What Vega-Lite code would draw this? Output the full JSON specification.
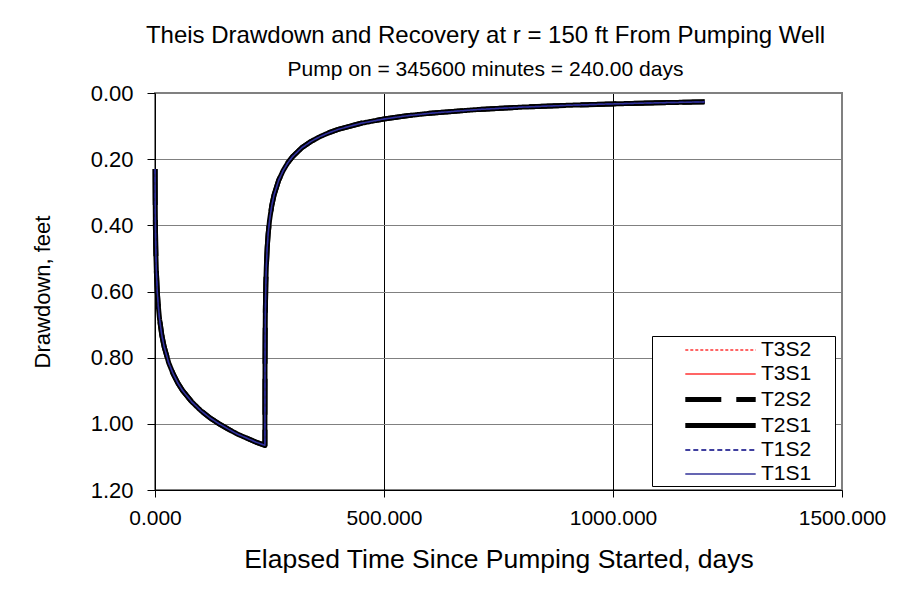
{
  "$schema": "https://vega.github.io/schema/vega-lite/v6.json",
  "autosize": "none",
  "width": 687,
  "height": 397,
  "padding": {"left": 155, "top": 93, "right": 56, "bottom": 106},
  "background": "white",
  "config": {
    "font": "Liberation Sans",
    "view": {"stroke": "#808080", "strokeWidth": 2},
    "axis": {"labelColor": "black", "titleColor": "black", "labelFont": "Liberation Sans", "titleFont": "Liberation Sans", "titleFontWeight": "normal", "domainColor": "black", "tickColor": "black"}
  },
  "title": {
    "text": "Theis Drawdown and Recovery at r = 150 ft From Pumping Well",
    "subtitle": "Pump on = 345600 minutes = 240.00 days",
    "fontSize": 24,
    "fontWeight": "normal",
    "color": "black",
    "subtitleFontSize": 21,
    "subtitleColor": "black",
    "subtitlePadding": 11,
    "offset": 2,
    "anchor": "middle",
    "dx": -13
  },
  "data": {
    "values": [
      {"t": 0.21, "T3S2": 0.230, "T3S1": 0.230, "T2S2": 0.230, "T2S1": 0.230, "T1S2": 0.230, "T1S1": 0.230},
      {"t": 0.3, "T3S2": 0.270, "T3S1": 0.270, "T2S2": 0.270, "T2S1": 0.270, "T1S2": 0.270, "T1S1": 0.270},
      {"t": 0.5, "T3S2": 0.329, "T3S1": 0.329, "T2S2": 0.329, "T2S1": 0.329, "T1S2": 0.329, "T1S1": 0.329},
      {"t": 0.7, "T3S2": 0.368, "T3S1": 0.368, "T2S2": 0.368, "T2S1": 0.368, "T1S2": 0.368, "T1S1": 0.368},
      {"t": 1, "T3S2": 0.410, "T3S1": 0.410, "T2S2": 0.410, "T2S1": 0.410, "T1S2": 0.410, "T1S1": 0.410},
      {"t": 1.5, "T3S2": 0.458, "T3S1": 0.458, "T2S2": 0.458, "T2S1": 0.458, "T1S2": 0.458, "T1S1": 0.458},
      {"t": 2, "T3S2": 0.492, "T3S1": 0.492, "T2S2": 0.492, "T2S1": 0.492, "T1S2": 0.492, "T1S1": 0.492},
      {"t": 3, "T3S2": 0.540, "T3S1": 0.540, "T2S2": 0.540, "T2S1": 0.540, "T1S2": 0.540, "T1S1": 0.540},
      {"t": 5, "T3S2": 0.601, "T3S1": 0.601, "T2S2": 0.601, "T2S1": 0.601, "T1S2": 0.601, "T1S1": 0.601},
      {"t": 7, "T3S2": 0.641, "T3S1": 0.641, "T2S2": 0.641, "T2S1": 0.641, "T1S2": 0.641, "T1S1": 0.641},
      {"t": 10, "T3S2": 0.684, "T3S1": 0.684, "T2S2": 0.684, "T2S1": 0.684, "T1S2": 0.684, "T1S1": 0.684},
      {"t": 15, "T3S2": 0.733, "T3S1": 0.733, "T2S2": 0.733, "T2S1": 0.733, "T1S2": 0.733, "T1S1": 0.733},
      {"t": 20, "T3S2": 0.767, "T3S1": 0.767, "T2S2": 0.767, "T2S1": 0.767, "T1S2": 0.767, "T1S1": 0.767},
      {"t": 30, "T3S2": 0.816, "T3S1": 0.816, "T2S2": 0.816, "T2S1": 0.816, "T1S2": 0.816, "T1S1": 0.816},
      {"t": 40, "T3S2": 0.850, "T3S1": 0.850, "T2S2": 0.850, "T2S1": 0.850, "T1S2": 0.850, "T1S1": 0.850},
      {"t": 50, "T3S2": 0.877, "T3S1": 0.877, "T2S2": 0.877, "T2S1": 0.877, "T1S2": 0.877, "T1S1": 0.877},
      {"t": 60, "T3S2": 0.899, "T3S1": 0.899, "T2S2": 0.899, "T2S1": 0.899, "T1S2": 0.899, "T1S1": 0.899},
      {"t": 80, "T3S2": 0.933, "T3S1": 0.933, "T2S2": 0.933, "T2S1": 0.933, "T1S2": 0.933, "T1S1": 0.933},
      {"t": 100, "T3S2": 0.960, "T3S1": 0.960, "T2S2": 0.960, "T2S1": 0.960, "T1S2": 0.960, "T1S1": 0.960},
      {"t": 120, "T3S2": 0.982, "T3S1": 0.982, "T2S2": 0.982, "T2S1": 0.982, "T1S2": 0.982, "T1S1": 0.982},
      {"t": 140, "T3S2": 1.000, "T3S1": 1.000, "T2S2": 1.000, "T2S1": 1.000, "T1S2": 1.000, "T1S1": 1.000},
      {"t": 160, "T3S2": 1.016, "T3S1": 1.016, "T2S2": 1.016, "T2S1": 1.016, "T1S2": 1.016, "T1S1": 1.016},
      {"t": 180, "T3S2": 1.031, "T3S1": 1.031, "T2S2": 1.031, "T2S1": 1.031, "T1S2": 1.031, "T1S1": 1.031},
      {"t": 200, "T3S2": 1.043, "T3S1": 1.043, "T2S2": 1.043, "T2S1": 1.043, "T1S2": 1.043, "T1S1": 1.043},
      {"t": 220, "T3S2": 1.055, "T3S1": 1.055, "T2S2": 1.055, "T2S1": 1.055, "T1S2": 1.055, "T1S1": 1.055},
      {"t": 240, "T3S2": 1.065, "T3S1": 1.065, "T2S2": 1.065, "T2S1": 1.065, "T1S2": 1.065, "T1S1": 1.065},
      {"t": 240.1, "T3S2": 0.914, "T3S1": 0.914, "T2S2": 0.914, "T2S1": 0.914, "T1S2": 0.914, "T1S1": 0.914},
      {"t": 240.21, "T3S2": 0.835, "T3S1": 0.835, "T2S2": 0.835, "T2S1": 0.835, "T1S2": 0.835, "T1S1": 0.835},
      {"t": 240.5, "T3S2": 0.737, "T3S1": 0.737, "T2S2": 0.737, "T2S1": 0.737, "T1S2": 0.737, "T1S1": 0.737},
      {"t": 241, "T3S2": 0.656, "T3S1": 0.656, "T2S2": 0.656, "T2S1": 0.656, "T1S2": 0.656, "T1S1": 0.656},
      {"t": 242, "T3S2": 0.574, "T3S1": 0.574, "T2S2": 0.574, "T2S1": 0.574, "T1S2": 0.574, "T1S1": 0.574},
      {"t": 243, "T3S2": 0.527, "T3S1": 0.527, "T2S2": 0.527, "T2S1": 0.527, "T1S2": 0.527, "T1S1": 0.527},
      {"t": 245, "T3S2": 0.467, "T3S1": 0.467, "T2S2": 0.467, "T2S1": 0.467, "T1S2": 0.467, "T1S1": 0.467},
      {"t": 247, "T3S2": 0.427, "T3S1": 0.427, "T2S2": 0.427, "T2S1": 0.427, "T1S2": 0.427, "T1S1": 0.427},
      {"t": 250, "T3S2": 0.386, "T3S1": 0.386, "T2S2": 0.386, "T2S1": 0.386, "T1S2": 0.386, "T1S1": 0.386},
      {"t": 255, "T3S2": 0.340, "T3S1": 0.340, "T2S2": 0.340, "T2S1": 0.340, "T1S2": 0.340, "T1S1": 0.340},
      {"t": 260, "T3S2": 0.308, "T3S1": 0.308, "T2S2": 0.308, "T2S1": 0.308, "T1S2": 0.308, "T1S1": 0.308},
      {"t": 270, "T3S2": 0.264, "T3S1": 0.264, "T2S2": 0.264, "T2S1": 0.264, "T1S2": 0.264, "T1S1": 0.264},
      {"t": 280, "T3S2": 0.234, "T3S1": 0.234, "T2S2": 0.234, "T2S1": 0.234, "T1S2": 0.234, "T1S1": 0.234},
      {"t": 290, "T3S2": 0.211, "T3S1": 0.211, "T2S2": 0.211, "T2S1": 0.211, "T1S2": 0.211, "T1S1": 0.211},
      {"t": 300, "T3S2": 0.193, "T3S1": 0.193, "T2S2": 0.193, "T2S1": 0.193, "T1S2": 0.193, "T1S1": 0.193},
      {"t": 320, "T3S2": 0.166, "T3S1": 0.166, "T2S2": 0.166, "T2S1": 0.166, "T1S2": 0.166, "T1S1": 0.166},
      {"t": 340, "T3S2": 0.147, "T3S1": 0.147, "T2S2": 0.147, "T2S1": 0.147, "T1S2": 0.147, "T1S1": 0.147},
      {"t": 360, "T3S2": 0.132, "T3S1": 0.132, "T2S2": 0.132, "T2S1": 0.132, "T1S2": 0.132, "T1S1": 0.132},
      {"t": 380, "T3S2": 0.120, "T3S1": 0.120, "T2S2": 0.120, "T2S1": 0.120, "T1S2": 0.120, "T1S1": 0.120},
      {"t": 400, "T3S2": 0.110, "T3S1": 0.110, "T2S2": 0.110, "T2S1": 0.110, "T1S2": 0.110, "T1S1": 0.110},
      {"t": 450, "T3S2": 0.0915, "T3S1": 0.0915, "T2S2": 0.0915, "T2S1": 0.0915, "T1S2": 0.0915, "T1S1": 0.0915},
      {"t": 500, "T3S2": 0.0785, "T3S1": 0.0785, "T2S2": 0.0785, "T2S1": 0.0785, "T1S2": 0.0785, "T1S1": 0.0785},
      {"t": 550, "T3S2": 0.0688, "T3S1": 0.0688, "T2S2": 0.0688, "T2S1": 0.0688, "T1S2": 0.0688, "T1S1": 0.0688},
      {"t": 600, "T3S2": 0.0613, "T3S1": 0.0613, "T2S2": 0.0613, "T2S1": 0.0613, "T1S2": 0.0613, "T1S1": 0.0613},
      {"t": 700, "T3S2": 0.0504, "T3S1": 0.0504, "T2S2": 0.0504, "T2S1": 0.0504, "T1S2": 0.0504, "T1S1": 0.0504},
      {"t": 800, "T3S2": 0.0428, "T3S1": 0.0428, "T2S2": 0.0428, "T2S1": 0.0428, "T1S2": 0.0428, "T1S1": 0.0428},
      {"t": 900, "T3S2": 0.0372, "T3S1": 0.0372, "T2S2": 0.0372, "T2S1": 0.0372, "T1S2": 0.0372, "T1S1": 0.0372},
      {"t": 1000, "T3S2": 0.0329, "T3S1": 0.0329, "T2S2": 0.0329, "T2S1": 0.0329, "T1S2": 0.0329, "T1S1": 0.0329},
      {"t": 1100, "T3S2": 0.0295, "T3S1": 0.0295, "T2S2": 0.0295, "T2S1": 0.0295, "T1S2": 0.0295, "T1S1": 0.0295},
      {"t": 1200, "T3S2": 0.0268, "T3S1": 0.0268, "T2S2": 0.0268, "T2S1": 0.0268, "T1S2": 0.0268, "T1S1": 0.0268}
    ]
  },
  "transform": [
    {"fold": ["T3S2", "T3S1", "T2S2", "T2S1", "T1S2", "T1S1"], "as": ["series", "s"]}
  ],
  "mark": {"type": "line", "strokeJoin": "round", "strokeCap": "butt", "clip": false},
  "encoding": {
    "x": {
      "field": "t", "type": "quantitative",
      "scale": {"domain": [0, 1500], "nice": false},
      "axis": {
        "title": "Elapsed Time Since Pumping Started, days",
        "titleFontSize": 26.5, "titlePadding": 18,
        "values": [0, 500, 1000, 1500], "format": ".3f",
        "labelFontSize": 21, "labelPadding": 10, "tickSize": 7,
        "grid": true,
        "gridColor": {"condition": {"test": "datum.value == 1500 || datum.value == 0", "value": "#808080"}, "value": "black"},
        "gridOpacity": 1,
        "labelFlush": false
      }
    },
    "y": {
      "field": "s", "type": "quantitative",
      "scale": {"domain": [0, 1.2], "reverse": true, "nice": false},
      "axis": {
        "title": "Drawdown, feet",
        "titleFontSize": 22, "titlePadding": 36,
        "values": [0, 0.2, 0.4, 0.6, 0.8, 1.0, 1.2], "format": ".2f",
        "labelFontSize": 22, "labelPadding": 14, "tickSize": 8,
        "grid": true, "gridColor": "#808080", "gridOpacity": 1
      }
    },
    "color": {
      "field": "series", "type": "nominal",
      "scale": {"domain": ["T3S2", "T3S1", "T2S2", "T2S1", "T1S2", "T1S1"], "range": ["#FF3333", "#FF3333", "#000000", "#000000", "#000080", "#333399"]},
      "legend": {
        "orient": "none", "legendX": 497, "legendY": 243,
        "title": ".", "titleOrient": "right", "titleColor": "white", "titleFontSize": 8, "titlePadding": 19,
        "padding": 2, "strokeColor": "black", "fillColor": "white",
        "symbolType": "M-3.2,0H3.2", "symbolSize": 484, "symbolOffset": 53,
        "labelOffset": 27, "labelFontSize": 21, "labelColor": "black", "rowPadding": 2
      }
    },
    "strokeDash": {
      "field": "series", "type": "nominal",
      "scale": {"domain": ["T3S2", "T3S1", "T2S2", "T2S1", "T1S2", "T1S1"], "range": [[3, 2], [1, 0], [36, 15], [1, 0], [5, 3], [1, 0]]},
      "legend": {
        "orient": "none", "legendX": 497, "legendY": 243,
        "title": ".", "titleOrient": "right", "titleColor": "white", "titleFontSize": 8, "titlePadding": 19,
        "padding": 2, "strokeColor": "black", "fillColor": "white",
        "symbolType": "M-3.2,0H3.2", "symbolSize": 484, "symbolOffset": 53,
        "labelOffset": 27, "labelFontSize": 21, "labelColor": "black", "rowPadding": 2
      }
    },
    "strokeWidth": {
      "field": "series", "type": "nominal",
      "scale": {"type": "ordinal", "domain": ["T3S2", "T3S1", "T2S2", "T2S1", "T1S2", "T1S1"], "range": [1.5, 1.5, 5, 5, 1.5, 1.5]},
      "legend": {
        "orient": "none", "legendX": 497, "legendY": 243,
        "title": ".", "titleOrient": "right", "titleColor": "white", "titleFontSize": 8, "titlePadding": 19,
        "padding": 2, "strokeColor": "black", "fillColor": "white",
        "symbolType": "M-3.2,0H3.2", "symbolSize": 484, "symbolOffset": 53,
        "labelOffset": 27, "labelFontSize": 21, "labelColor": "black", "rowPadding": 2
      }
    }
  }
}
